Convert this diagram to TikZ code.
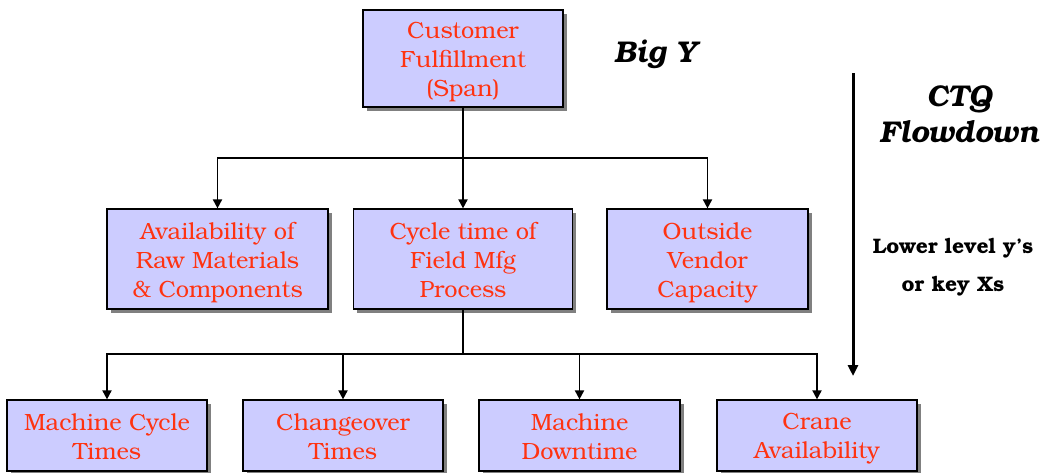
\documentclass[tikz,border=0pt]{standalone}
\usepackage{fontspec}
\setmainfont{TeX Gyre Bonum}
\usetikzlibrary{shadows,arrows.meta}
\definecolor{boxfill}{HTML}{CCCCFF}
\definecolor{boxtext}{HTML}{FF3311}
\tikzset{
  box/.style={draw=black, line width=1.2pt, fill=boxfill, inner sep=0pt,
    drop shadow={shadow xshift=3.5pt, shadow yshift=-3.5pt, fill=black!50, opacity=1}},
  boxtxt/.style={text=boxtext, align=center, inner sep=0pt, font=\fontsize{23.5}{29}\selectfont,
    execute at begin node=\strut, execute at end node=\strut},
  conn/.style={line width=1.8pt},
  arr/.style={line width=1.8pt, -{Triangle[length=9pt,width=9pt]}},
  side/.style={font=\fontsize{30}{36}\selectfont\bfseries\itshape, align=center},
}
\begin{document}
\begin{tikzpicture}[x=1pt,y=-1pt]
\useasboundingbox (0,0) rectangle (1041,472);
\fill[white] (0,0) rectangle (1041,472);
% boxes
\node[box, minimum width=200pt, minimum height=97pt] (top) at (463,58.5) {};
\node[box, minimum width=221pt, minimum height=100pt] (avail) at (217.5,259) {};
\node[box, minimum width=219pt, minimum height=100pt] (cycle) at (463,259) {};
\node[box, minimum width=201pt, minimum height=100pt] (outside) at (707.5,259) {};
\node[box, minimum width=200pt, minimum height=71pt] (mct) at (107,435.5) {};
\node[box, minimum width=200pt, minimum height=71pt] (chg) at (343,435.5) {};
\node[box, minimum width=201pt, minimum height=71pt] (mdt) at (579.5,435.5) {};
\node[box, minimum width=200pt, minimum height=71pt] (crane) at (817,435.5) {};
% box texts
\node[boxtxt] (topt) at ([yshift=-5pt]top.center) {Customer\\Fulfillment\\(Span)};
\node[boxtxt] (availt) at ([yshift=-5pt]avail.center) {Availability of\\Raw Materials\\\& Components};
\node[boxtxt] (cyclet) at ([yshift=-5pt]cycle.center) {Cycle time of\\Field Mfg\\Process};
\node[boxtxt] (outsidet) at ([yshift=-5pt]outside.center) {Outside\\Vendor\\Capacity};
\node[boxtxt] (mctt) at ([yshift=-5pt]mct.center) {Machine Cycle\\Times};
\node[boxtxt] (chgt) at ([yshift=-5pt]chg.center) {Changeover\\Times};
\node[boxtxt] (mdtt) at ([yshift=-5pt]mdt.center) {Machine\\Downtime};
\node[boxtxt] (cranet) at ([yshift=-5pt]crane.center) {Crane\\Availability};
% connectors level 1 -> 2
\coordinate (j1) at (463,158);
\draw[conn] (top.south) -- (j1);
\draw[arr] (j1) -| (avail.north);
\draw[arr] (j1) -- (cycle.north);
\draw[arr] (j1) -| (outside.north);
% connectors level 2 -> 3
\coordinate (j2) at (463,354);
\draw[conn] (cycle.south) -- (j2);
\draw[arr] (j2) -| (mct.north);
\draw[arr] (j2) -| (chg.north);
\draw[arr] (j2) -| (mdt.north);
\draw[arr] (j2) -| (crane.north);
% side annotations
\node[side] (bigy) at (655,54) {Big Y};
\node[side] (ctq) at (959,114) {CTQ\\Flowdown};
\node[font=\fontsize{21}{38}\selectfont\bfseries, align=center] (lower) at (953,267) {Lower level y’s\\or key Xs};
\coordinate (fa) at (853,73);
\coordinate (fb) at (853,376);
\draw[line width=3pt, -{Triangle[length=11pt,width=10pt]}] (fa) -- (fb);
\end{tikzpicture}
\end{document}
